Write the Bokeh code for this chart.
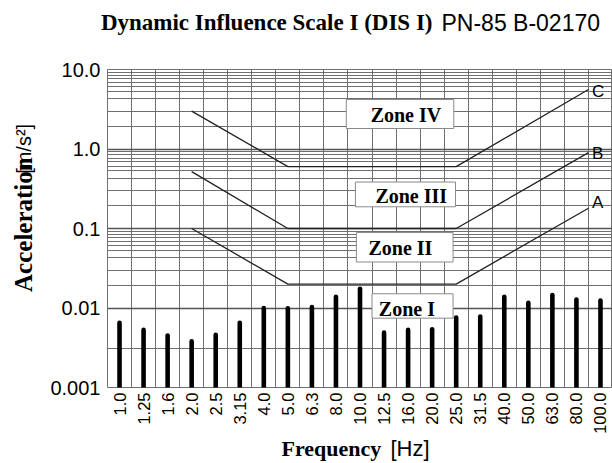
from math import pi
from bokeh.plotting import figure
from bokeh.layouts import column, row
from bokeh.models import FactorRange, Range1d, FixedTicker, CustomJSTickFormatter, ColumnDataSource
from bokeh.core.properties import value
from bokeh.embed import file_html
from bokeh.resources import INLINE

# ---------------- data ----------------
frequencies = ["1.0", "1.25", "1.6", "2.0", "2.5", "3.15", "4.0", "5.0", "6.3", "8.0",
               "10.0", "12.5", "16.0", "20.0", "25.0", "31.5", "40.0", "50.0", "63.0",
               "80.0", "100.0"]
acceleration = [0.0065, 0.0053, 0.0045, 0.0038, 0.0046, 0.0065, 0.0100, 0.0099, 0.0103,
                0.0138, 0.0175, 0.0049, 0.0053, 0.0054, 0.0076, 0.0078, 0.0138, 0.0116,
                0.0145, 0.0128, 0.0124]

# zone boundary curves A, B, C: vertices given as (frequency band, offset in bands)
curve_vertices = [("2.0", 0.0), ("5.0", 0.0), ("25.0", 0.0), ("100.0", -0.5)]
curve_A = [0.1, 0.02, 0.02, 0.18]
curve_B = [0.52, 0.1, 0.1, 0.9]
curve_C = [3.0, 0.6, 0.6, 5.6]
curve_names = ["A", "B", "C"]
curve_label_values = [0.21, 0.89, 5.3]

# zone labels (boxes, in band units / acceleration)
zone_names = ["Zone IV", "Zone III", "Zone II", "Zone I"]
zone_left = [9.93, 10.31, 10.35, 11.0]
zone_right = [14.40, 14.47, 14.37, 14.37]
zone_top = [4.19, 0.384, 0.0889, 0.0151]
zone_bottom = [1.81, 0.1875, 0.0379, 0.00745]
zone_text_x = [12.41, 12.63, 12.18, 12.45]
zone_text_y = [2.70, 0.259, 0.0562, 0.0098]

y_ticks = [0.001, 0.01, 0.1, 1.0, 10.0]
y_tick_labels = ["0.001", "0.01", "0.1", "1.0", "10.0"]
y_minor_grid = [9.2, 8.5, 7.7, 6.9, 6.1, 5.3, 4.3, 3.0, 1.93,
                0.92, 0.85, 0.77, 0.69, 0.61, 0.53, 0.43, 0.30, 0.193,
                0.092, 0.085, 0.077, 0.069, 0.061, 0.053, 0.043, 0.030, 0.0193,
                0.0031]

title_main = "Dynamic Influence Scale I (DIS I)"
title_code = "PN-85 B-02170"
x_title = ["Frequency", "[Hz]"]
y_title = ["Acceleration", "[m/s\u00b2]"]

SERIF = "Liberation Serif"
SANS = "Liberation Sans"
GRID = "#6f6f6f"

W = 612
HEADER_H, LEFT_W, MAIN_H, FOOTER_H = 50, 40, 386, 26


def syn(band, offset=0.0):
    return frequencies.index(band) + 0.5 + offset


def text_panel(width, height, x0, y0):
    """Blank panel whose data units equal page pixels (y downwards)."""
    f = figure(width=width, height=height,
               x_range=Range1d(x0, x0 + width), y_range=Range1d(y0 + height, y0),
               min_border=0, x_axis_location=None, y_axis_location=None,
               output_backend="svg", toolbar_location=None)
    f.outline_line_color = None
    f.xgrid.visible = False
    f.ygrid.visible = False
    f.background_fill_color = "white"
    f.border_fill_color = "white"
    return f


# ---------------- main figure ----------------
p = figure(x_range=FactorRange(factors=frequencies),
           y_range=Range1d(y_ticks[0], y_ticks[-1]),
           y_axis_type="log",
           width=W - LEFT_W, height=MAIN_H,
           min_border_left=107 - LEFT_W, min_border_right=0,
           min_border_top=69 - HEADER_H, min_border_bottom=MAIN_H - (69 - HEADER_H) - 322,
           output_backend="svg", toolbar_location=None)

p.background_fill_color = "white"
p.border_fill_color = "white"
p.outline_line_color = GRID
p.outline_line_width = 1

# grids
p.xgrid.ticker = FixedTicker(ticks=list(range(1, len(frequencies))))
p.xgrid.grid_line_color = GRID
p.xgrid.grid_line_width = 1
p.ygrid.ticker = FixedTicker(ticks=y_ticks, minor_ticks=y_minor_grid)
p.ygrid.grid_line_color = "#555555"
p.ygrid.grid_line_width = 1.3
p.ygrid.minor_grid_line_color = GRID
p.ygrid.minor_grid_line_width = 1

# axes
p.yaxis.ticker = FixedTicker(ticks=y_ticks, minor_ticks=[])
p.yaxis.formatter = CustomJSTickFormatter(args=dict(vals=y_ticks, labels=y_tick_labels), code="""
let best = 0, d = Infinity;
for (let i = 0; i < vals.length; i++) {
  const e = Math.abs(Math.log10(tick) - Math.log10(vals[i]));
  if (e < d) { d = e; best = i; }
}
return labels[best];
""")
for ax in (p.xaxis[0], p.yaxis[0]):
    ax.axis_line_color = None
    ax.major_tick_line_color = None
    ax.minor_tick_line_color = None
    ax.major_tick_out = 0
    ax.major_tick_in = 0
    ax.major_label_text_font = SANS
    ax.major_label_text_color = "black"
p.yaxis.major_label_text_font_size = "20px"
p.yaxis.major_label_standoff = 7
p.yaxis.major_label_text_baseline = "alphabetic"
p.xaxis.major_label_text_font_size = "16.5px"
p.xaxis.major_label_standoff = 5
p.xaxis.major_label_orientation = pi / 2

# zone boxes
p.quad(left=zone_left, right=zone_right, top=zone_top, bottom=zone_bottom,
       fill_color="white", line_color="#8a8a8a", line_width=1)
p.text(x=zone_text_x, y=zone_text_y, text=zone_names,
       text_font=value(SERIF), text_font_style="bold", text_font_size="20px",
       text_align="center", text_baseline="middle", text_color="black")

# bars
bars = ColumnDataSource(dict(f=frequencies, v=acceleration, base=[y_ticks[0]] * len(frequencies)))
p.segment(x0="f", y0="base", x1="f", y1="v", source=bars,
          line_color="black", line_width=4.6, line_cap="round")

# boundary curves
cx = [syn(b, o) for b, o in curve_vertices]
for vals in (curve_A, curve_B, curve_C):
    p.line(x=cx, y=vals, line_color="#222222", line_width=1.3)
p.text(x=[cx[-1] + 0.15] * 3, y=curve_label_values, text=curve_names,
       text_font=value(SANS), text_font_size="17px",
       text_align="left", text_baseline="middle", text_color="black")

# ---------------- title panels ----------------
header = text_panel(W, HEADER_H, 0, 0)
header.text(x=[432], y=[22], text=[title_main], text_font=value(SERIF), text_font_style="bold",
            text_font_size="23px", text_align="right", text_baseline="middle", text_color="black")
header.text(x=[441], y=[22], text=[title_code], text_font=value(SANS),
            text_font_size="23px", text_align="left", text_baseline="middle", text_color="black")

left = text_panel(LEFT_W, MAIN_H, 0, HEADER_H)
left.text(x=[23], y=[320], text=[y_title[0]], text_font=value(SERIF), text_font_style="bold",
          text_font_size="25px", text_align="left", text_baseline="middle", angle=pi / 2,
          text_color="black")
left.text(x=[23], y=[116], text=[y_title[1]], text_font=value(SANS),
          text_font_size="20px", text_align="right", text_baseline="middle", angle=pi / 2,
          text_color="black")

footer_y0 = HEADER_H + MAIN_H
footer = text_panel(W, FOOTER_H, 0, footer_y0)
footer.text(x=[281], y=[footer_y0 + 12], text=[x_title[0]], text_font=value(SERIF),
            text_font_style="bold", text_font_size="22px", text_align="left",
            text_baseline="middle", text_color="black")
footer.text(x=[390], y=[footer_y0 + 12], text=[x_title[1]], text_font=value(SANS),
            text_font_size="22px", text_align="left", text_baseline="middle", text_color="black")

layout = column(header, row(left, p, spacing=0), footer, spacing=0)

open("out.html", "w").write(file_html(layout, INLINE))
